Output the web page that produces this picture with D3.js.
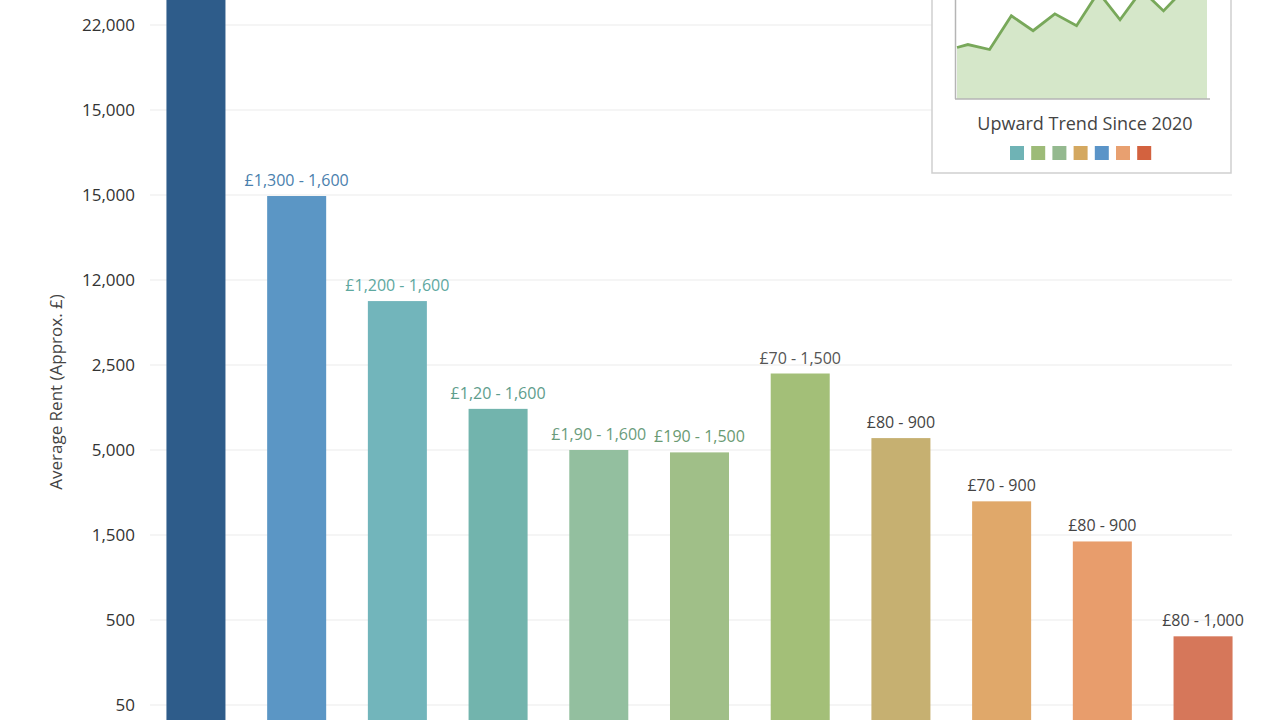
<!DOCTYPE html>
<html>
<head>
<meta charset="utf-8">
<script src="https://cdn.jsdelivr.net/npm/d3@7"></script>
<style>
  body { margin: 0; background: #fff; }
  svg { display: block; font-family: "Open Sans", "Noto Sans", sans-serif; }
</style>
</head>
<body>
<svg id="chart" width="1280" height="720"></svg>
<script>
// bar data (values in rent index units)
var barValues = [22000, 14970, 11880, 8710, 7500, 7430, 9750, 7850, 5990, 4810, 2020];
var barLabels = ["", "£1,300 - 1,600", "£1,200 - 1,600", "£1,20 - 1,600", "£1,90 - 1,600", "£190 - 1,500",
                 "£70 - 1,500", "£80 - 900", "£70 - 900", "£80 - 900", "£80 - 1,000"];
var barColors = ["#2e5c8a", "#5b96c5", "#72b5bb", "#72b4ad", "#93bf9f", "#a0bf88",
                 "#a3bf78", "#c6b071", "#e0a86a", "#e89d6c", "#d6775a"];
var labelColors = ["#3f6f9a", "#4a80ad", "#5ea89f", "#5e9d8c", "#6a9c7c", "#6a9a72",
                   "#555555", "#444444", "#444444", "#444444", "#444444"];

// y axis ticks (labels as printed)
var tickValues = [20000, 17500, 15000, 12500, 10000, 7500, 5000, 2500, 0];
var tickLabels = ["22,000", "15,000", "15,000", "12,000", "2,500", "5,000", "1,500", "500", "50"];

// inset trend
var trendX = [0, 0.5, 1.5, 2.5, 3.5, 4.5, 5.5, 6.5, 7.5, 8.5, 9.5, 10.5, 11.5];
var trendY = [52, 55, 50, 84, 69, 86, 74, 108, 80, 110, 89, 112, 106];
var swatchColors = ["#6fb3b5", "#9dbb78", "#94b98f", "#d4a860", "#5a94c8", "#e8a070", "#d3623f"];

var W = 1280, H = 720;
var svg = d3.select("#chart");

var x = d3.scaleBand()
  .domain(d3.range(barValues.length))
  .range([145.6, 1253.4])
  .paddingInner(0.414)
  .paddingOuter(0.207);

var y = d3.scaleLinear()
  .domain([0, 20000])
  .range([705, 25]);

// gridlines
svg.append("g")
  .selectAll("line")
  .data(tickValues)
  .enter()
  .append("line")
  .attr("x1", 150)
  .attr("x2", 1232)
  .attr("y1", function(d){ return y(d); })
  .attr("y2", function(d){ return y(d); })
  .attr("stroke", "#ececec")
  .attr("stroke-width", 1.2);

// tick labels
svg.append("g")
  .selectAll("text")
  .data(tickValues)
  .enter()
  .append("text")
  .attr("x", 135)
  .attr("y", function(d){ return y(d); })
  .attr("dy", "0.35em")
  .attr("text-anchor", "end")
  .attr("font-size", 17)
  .attr("fill", "#333")
  .text(function(d, i){ return tickLabels[i]; });

// axis title
svg.append("text")
  .attr("transform", "translate(62,392) rotate(-90)")
  .attr("text-anchor", "middle")
  .attr("font-size", 17)
  .attr("fill", "#444")
  .text("Average Rent (Approx. £)");

// bars
svg.append("g")
  .selectAll("rect")
  .data(barValues)
  .enter()
  .append("rect")
  .attr("x", function(d, i){ return x(i); })
  .attr("y", function(d){ return y(d); })
  .attr("width", x.bandwidth())
  .attr("height", function(d){ return H - y(d); })
  .attr("fill", function(d, i){ return barColors[i]; });

// bar labels
svg.append("g")
  .selectAll("text")
  .data(barValues)
  .enter()
  .append("text")
  .attr("x", function(d, i){ return x(i) + x.bandwidth() / 2; })
  .attr("y", function(d){ return y(d) - 10; })
  .attr("text-anchor", "middle")
  .attr("font-size", 16)
  .attr("fill", function(d, i){ return labelColors[i]; })
  .text(function(d, i){ return barLabels[i]; });

// inset box
var inset = svg.append("g");
inset.append("rect")
  .attr("x", 932)
  .attr("y", -20)
  .attr("width", 299)
  .attr("height", 193)
  .attr("fill", "#fff")
  .attr("stroke", "#cfcfcf")
  .attr("stroke-width", 1.5);

var ix = d3.scaleLinear().domain([0, 11.5]).range([957, 1207]);
var iy = d3.scaleLinear().domain([0, 100]).range([99, 0]);

var area = d3.area()
  .x(function(d){ return ix(d[0]); })
  .y0(iy(0))
  .y1(function(d){ return iy(d[1]); });
var line = d3.line()
  .x(function(d){ return ix(d[0]); })
  .y(function(d){ return iy(d[1]); });

var pts = trendX.map(function(v, i){ return [v, trendY[i]]; });

inset.append("path")
  .attr("d", area(pts))
  .attr("fill", "#d5e7c9");
inset.append("path")
  .attr("d", line(pts))
  .attr("fill", "none")
  .attr("stroke", "#78a85a")
  .attr("stroke-width", 2.8)
  .attr("stroke-linejoin", "miter");

inset.append("line")
  .attr("x1", 955.5).attr("x2", 955.5)
  .attr("y1", -5).attr("y2", 99)
  .attr("stroke", "#b5b5b5").attr("stroke-width", 1.5);
inset.append("line")
  .attr("x1", 955).attr("x2", 1210)
  .attr("y1", 99).attr("y2", 99)
  .attr("stroke", "#b5b5b5").attr("stroke-width", 1.5);

inset.append("text")
  .attr("x", 1085)
  .attr("y", 130)
  .attr("text-anchor", "middle")
  .attr("font-size", 18)
  .attr("fill", "#444")
  .text("Upward Trend Since 2020");

inset.append("g")
  .selectAll("rect")
  .data(swatchColors)
  .enter()
  .append("rect")
  .attr("x", function(d, i){ return 1010 + i * 21.2; })
  .attr("y", 146)
  .attr("width", 14)
  .attr("height", 14)
  .attr("fill", function(d){ return d; });
</script>
</body>
</html>
